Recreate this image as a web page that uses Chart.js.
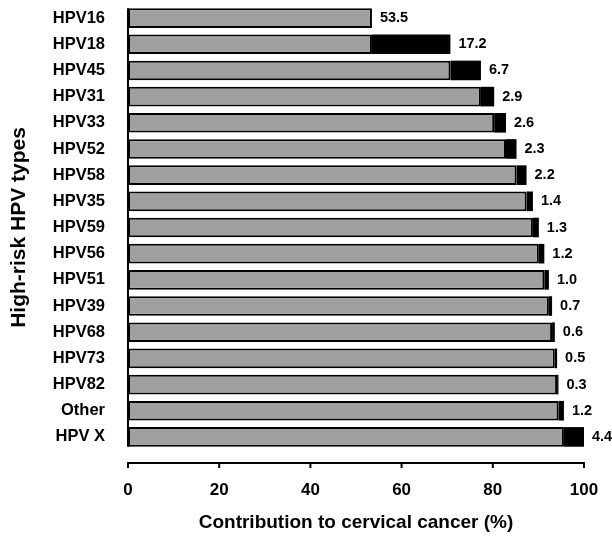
<!DOCTYPE html>
<html>
<head>
<meta charset="utf-8">
<script src="https://cdn.jsdelivr.net/npm/chart.js@4.4.1/dist/chart.umd.min.js"></script>
<style>
  body { margin: 0; background: #fff; }
</style>
</head>
<body>
<canvas id="grafica" width="612" height="541"></canvas>
<script>
var tipos = ['HPV16', 'HPV18', 'HPV45', 'HPV31', 'HPV33', 'HPV52', 'HPV58', 'HPV35', 'HPV59',
             'HPV56', 'HPV51', 'HPV39', 'HPV68', 'HPV73', 'HPV82', 'Other', 'HPV X']
var contribucion = [53.5, 17.2, 6.7, 2.9, 2.6, 2.3, 2.2, 1.4, 1.3, 1.2, 1.0, 0.7, 0.6, 0.5, 0.3, 1.2, 4.4]
// parte gris = acumulado de los tipos anteriores (HPV16 va entero en gris)
var parte_gris = [53.5, 53.5, 70.7, 77.4, 80.3, 82.9, 85.2, 87.4, 88.8, 90.1, 91.3, 92.3, 93.0, 93.6, 94.1, 94.4, 95.6]
var parte_negra = [0, 17.2, 6.7, 2.9, 2.6, 2.3, 2.2, 1.4, 1.3, 1.2, 1.0, 0.7, 0.6, 0.5, 0.3, 1.2, 4.4]
var ticks_x = [0, 20, 40, 60, 80, 100]

var fuente = 'Arial, "Liberation Sans", Helvetica, sans-serif'

var ejes_y_etiquetas = {
    id: 'ejes_y_etiquetas',
    afterDatasetsDraw: function(chart) {
        var ctx = chart.ctx
        var x = chart.scales.x
        var negra = chart.getDatasetMeta(1).data
        var gris = chart.getDatasetMeta(0).data
        ctx.save()
        ctx.strokeStyle = '#000'
        ctx.lineWidth = 2
        // eje vertical, de la primera a la ultima barra
        var primera = gris[0], ultima = gris[gris.length - 1]
        var izq = x.getPixelForValue(0)
        ctx.beginPath()
        ctx.moveTo(izq, primera.y - primera.height / 2)
        ctx.lineTo(izq, ultima.y + ultima.height / 2)
        ctx.stroke()
        // eje horizontal separado de las barras
        var yEje = chart.chartArea.bottom + 13
        ctx.beginPath()
        ctx.moveTo(x.getPixelForValue(ticks_x[0]) - 1, yEje)
        ctx.lineTo(x.getPixelForValue(ticks_x[ticks_x.length - 1]) + 1, yEje)
        for (var t = 0; t < ticks_x.length; t++) {
            var px = x.getPixelForValue(ticks_x[t])
            ctx.moveTo(px, yEje)
            ctx.lineTo(px, yEje + 5)
        }
        ctx.stroke()
        // valores al final de cada barra
        ctx.fillStyle = '#000'
        ctx.font = 'bold 14.5px ' + fuente
        ctx.textAlign = 'left'
        ctx.textBaseline = 'middle'
        for (var i = 0; i < negra.length; i++) {
            ctx.fillText(contribucion[i].toFixed(1), negra[i].x + 8, negra[i].y)
        }
        ctx.restore()
    }
}

new Chart(document.getElementById('grafica'), {
    type: 'bar',
    data: {
        labels: tipos,
        datasets: [{
            data: parte_gris,
            backgroundColor: '#a0a0a0',
            borderColor: '#000',
            borderWidth: 2,
            borderSkipped: false,
            barPercentage: 0.75,
            categoryPercentage: 1
        }, {
            data: parte_negra,
            backgroundColor: '#000',
            borderColor: '#000',
            borderWidth: 0,
            borderSkipped: false,
            barPercentage: 0.75,
            categoryPercentage: 1
        }]
    },
    options: {
        indexAxis: 'y',
        responsive: false,
        animation: false,
        layout: { padding: { top: 5, right: 28, bottom: 0, left: 0 } },
        plugins: { legend: { display: false }, tooltip: { enabled: false } },
        scales: {
            x: {
                stacked: true,
                min: 0,
                max: 100,
                afterFit: function(s) { s.height = 91; s.paddingLeft = 0; s.paddingRight = 0 },
                afterBuildTicks: function(s) { s.ticks = ticks_x.map(function(v) { return { value: v } }) },
                grid: { display: false },
                border: { display: false },
                ticks: { color: '#000', padding: 22, font: { family: fuente, size: 17, weight: 'bold' } },
                title: {
                    display: true,
                    text: 'Contribution to cervical cancer (%)',
                    color: '#000',
                    padding: { top: 0, bottom: 7 },
                    font: { family: fuente, size: 19, weight: 'bold' }
                }
            },
            y: {
                stacked: true,
                afterFit: function(s) { s.width = 128; s.paddingTop = 0; s.paddingBottom = 0 },
                grid: { display: false },
                border: { display: false },
                ticks: { color: '#000', padding: 15, font: { family: fuente, size: 16.5, weight: 'bold' } },
                title: {
                    display: true,
                    text: 'High-risk HPV types',
                    color: '#000',
                    padding: { top: 7, bottom: 0 },
                    font: { family: fuente, size: 21, weight: 'bold' }
                }
            }
        }
    },
    plugins: [ejes_y_etiquetas]
});
</script>
</body>
</html>
